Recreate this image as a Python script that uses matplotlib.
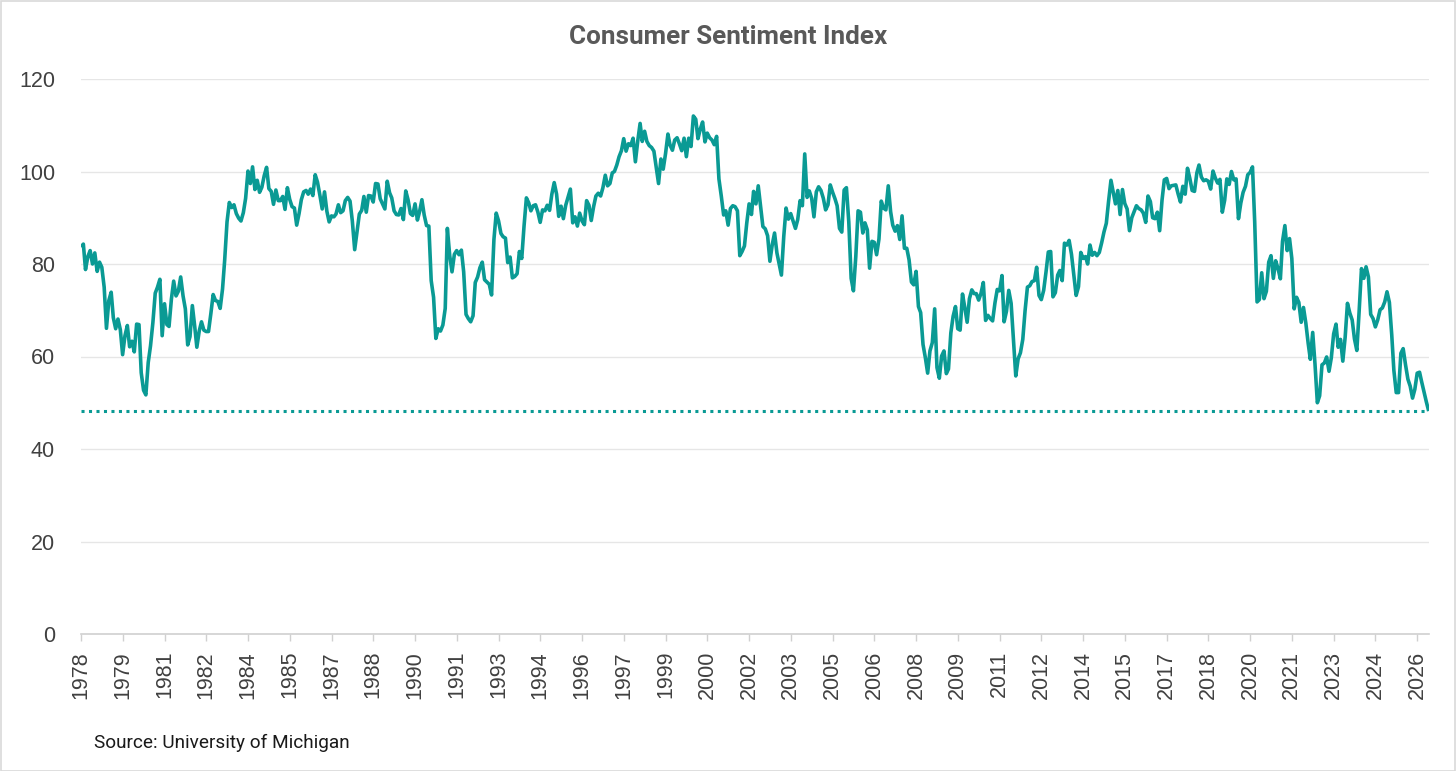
import matplotlib
matplotlib.use('Agg')
import matplotlib.pyplot as plt
import numpy as np
import pandas as pd
from matplotlib.patches import Rectangle

# ---- Monthly University of Michigan Consumer Sentiment values ----
v1978 = [83.7, 84.3, 78.8, 81.6, 82.9, 80.0, 82.4, 78.4, 80.4, 79.3, 75.0, 66.1]
v1979 = [72.1, 73.9, 68.4, 66.0, 68.1, 65.8, 60.4, 64.5, 66.7, 62.1, 63.3, 61.0]
v1980 = [67.0, 66.9, 56.5, 52.7, 51.7, 58.7, 62.3, 67.3, 73.7, 75.0, 76.7, 64.5]
v1981 = [71.4, 66.9, 66.5, 72.4, 76.3, 73.1, 74.1, 77.2, 73.1, 70.3, 62.5, 64.3]
v1982 = [71.0, 66.5, 62.0, 65.5, 67.5, 65.7, 65.4, 65.4, 69.3, 73.4, 72.1, 71.9]
v1983 = [70.4, 74.6, 80.8, 89.1, 93.3, 92.2, 92.8, 90.9, 89.9, 89.3, 91.1, 94.2]
v1984 = [100.1, 97.4, 101.0, 96.1, 98.1, 95.5, 96.6, 99.1, 100.9, 96.3, 95.7, 92.9]
v1985 = [96.0, 93.7, 93.7, 94.6, 91.8, 96.5, 94.0, 92.4, 92.1, 88.4, 90.9, 93.9]
v1986 = [95.6, 95.9, 95.1, 96.2, 94.8, 99.3, 97.7, 94.9, 91.9, 95.6, 91.4, 89.1]
v1987 = [90.4, 90.2, 90.8, 92.8, 91.1, 91.5, 93.7, 94.4, 93.6, 89.3, 83.1, 86.8]
v1988 = [90.8, 91.6, 94.6, 91.2, 94.8, 94.7, 93.4, 97.4, 97.3, 94.1, 93.0, 91.9]
v1989 = [97.9, 95.4, 94.3, 91.5, 90.7, 90.6, 92.0, 89.6, 95.8, 93.9, 90.9, 90.5]
v1990 = [93.0, 89.5, 91.3, 93.9, 90.6, 88.3, 88.2, 76.4, 72.8, 63.9, 66.0, 65.5]
v1991 = [66.8, 70.4, 87.7, 81.8, 78.3, 82.1, 82.9, 82.0, 83.0, 78.3, 69.1, 68.2]
v1992 = [67.5, 68.8, 76.0, 77.2, 79.2, 80.4, 76.6, 76.1, 75.6, 73.3, 85.3, 91.0]
v1993 = [89.3, 86.6, 85.9, 85.6, 80.3, 81.5, 77.0, 77.3, 77.9, 82.7, 81.2, 88.2]
v1994 = [94.3, 93.2, 91.5, 92.6, 92.8, 91.2, 89.0, 91.7, 91.5, 92.7, 91.6, 95.1]
v1995 = [97.6, 95.1, 90.3, 92.5, 89.8, 92.7, 94.4, 96.2, 88.9, 90.2, 88.2, 91.0]
v1996 = [89.3, 88.5, 93.7, 92.7, 89.4, 92.4, 94.7, 95.3, 94.7, 96.5, 99.2, 96.9]
v1997 = [97.4, 99.7, 100.0, 101.4, 103.2, 104.5, 107.1, 104.4, 106.0, 105.6, 107.2, 102.1]
v1998 = [106.6, 110.4, 106.5, 108.7, 106.5, 105.6, 105.2, 104.4, 100.9, 97.4, 102.7, 100.5]
v1999 = [103.9, 108.1, 105.7, 104.6, 106.8, 107.3, 106.0, 104.5, 107.2, 103.2, 107.2, 105.4]
v2000 = [112.0, 111.3, 107.1, 109.2, 110.7, 106.4, 108.3, 107.3, 106.8, 105.8, 107.6, 98.4]
v2001 = [94.7, 90.6, 91.5, 88.4, 92.0, 92.6, 92.4, 91.5, 81.8, 82.7, 83.9, 88.8]
v2002 = [93.0, 90.7, 95.7, 93.0, 96.9, 92.4, 88.1, 87.6, 86.1, 80.6, 84.2, 86.7]
v2003 = [82.4, 79.9, 77.6, 86.0, 92.1, 89.7, 90.9, 89.3, 87.7, 89.6, 93.7, 92.6]
v2004 = [103.8, 94.4, 95.8, 94.2, 90.2, 95.6, 96.7, 95.9, 94.2, 91.7, 92.8, 97.1]
v2005 = [95.5, 94.1, 92.6, 87.7, 86.9, 96.0, 96.5, 89.1, 76.9, 74.2, 81.6, 91.5]
v2006 = [91.2, 86.7, 88.9, 87.4, 79.1, 84.9, 84.7, 82.0, 85.4, 93.6, 92.1, 91.7]
v2007 = [96.9, 91.3, 88.4, 87.1, 88.3, 85.3, 90.4, 83.4, 83.4, 80.9, 76.1, 75.5]
v2008 = [78.4, 70.8, 69.5, 62.6, 59.8, 56.4, 61.2, 63.0, 70.3, 57.6, 55.3, 60.1]
v2009 = [61.2, 56.3, 57.3, 65.1, 68.7, 70.8, 66.0, 65.7, 73.5, 70.6, 67.4, 72.5]
v2010 = [74.4, 73.6, 73.6, 72.2, 73.6, 76.0, 67.8, 68.9, 68.2, 67.7, 71.6, 74.5]
v2011 = [74.2, 77.5, 67.5, 69.8, 74.3, 71.5, 63.7, 55.8, 59.5, 60.8, 63.7, 69.9]
v2012 = [75.0, 75.3, 76.2, 76.4, 79.3, 73.2, 72.3, 74.3, 78.3, 82.6, 82.7, 72.9]
v2013 = [73.8, 77.6, 78.6, 76.4, 84.5, 84.1, 85.1, 82.1, 77.5, 73.2, 75.1, 82.5]
v2014 = [81.2, 81.6, 80.0, 84.1, 81.9, 82.5, 81.8, 82.5, 84.6, 86.9, 88.8, 93.6]
v2015 = [98.1, 95.4, 93.0, 95.9, 90.7, 96.1, 93.1, 91.9, 87.2, 90.0, 91.3, 92.6]
v2016 = [92.0, 91.7, 91.0, 89.0, 94.7, 93.5, 90.0, 89.8, 91.2, 87.2, 93.8, 98.2]
v2017 = [98.5, 96.3, 96.9, 97.0, 97.1, 95.1, 93.4, 96.8, 95.1, 100.7, 98.5, 95.9]
v2018 = [95.7, 99.7, 101.4, 98.8, 98.0, 98.2, 97.9, 96.2, 100.1, 98.6, 97.5, 98.3]
v2019 = [91.2, 93.8, 98.4, 97.2, 100.0, 98.2, 98.4, 89.8, 93.2, 95.5, 96.8, 99.3]
v2020 = [99.8, 101.0, 89.1, 71.8, 72.3, 78.1, 72.5, 74.1, 80.4, 81.8, 76.9, 80.7]
v2021 = [79.0, 76.8, 84.9, 88.3, 82.9, 85.5, 81.2, 70.3, 72.8, 71.7, 67.4, 70.6]
v2022 = [67.2, 62.8, 59.4, 65.2, 58.4, 50.0, 51.5, 58.2, 58.6, 59.9, 56.8, 59.7]
v2023 = [64.9, 67.0, 62.0, 63.7, 59.0, 64.2, 71.5, 69.4, 67.9, 63.8, 61.3, 69.7]
v2024 = [79.0, 76.9, 79.4, 77.2, 69.1, 68.2, 66.4, 67.9, 70.1, 70.5, 71.8, 74.0]
v2025 = [71.7, 64.7, 57.0, 52.2, 52.2, 60.7, 61.7, 58.2, 55.1, 53.6, 51.0, 52.9]
v2026 = [56.4, 56.6, 54.5, 52.3, 50.2, 48.2]

yearly = [v1978, v1979, v1980, v1981, v1982, v1983, v1984, v1985, v1986, v1987,
          v1988, v1989, v1990, v1991, v1992, v1993, v1994, v1995, v1996, v1997,
          v1998, v1999, v2000, v2001, v2002, v2003, v2004, v2005, v2006, v2007,
          v2008, v2009, v2010, v2011, v2012, v2013, v2014, v2015, v2016, v2017,
          v2018, v2019, v2020, v2021, v2022, v2023, v2024, v2025, v2026]
values = np.concatenate([np.array(v, dtype=float) for v in yearly])
dates = pd.date_range('1978-01-01', periods=len(values), freq='MS')

record_low = 48.2
y_ticks = [0, 20, 40, 60, 80, 100, 120]
tick_dates = pd.date_range('1978-01-01', '2026-01-01', freq='18MS')
tick_labels = [d.strftime('%Y') for d in tick_dates]

title = 'Consumer Sentiment Index'
source = 'Source: University of Michigan'

# ---- styling ----
W, H = 1456, 771
teal = '#0A9A94'
label_color = '#404040'

fig = plt.figure(figsize=(W / 100, H / 100), dpi=100)
fig.patch.set_facecolor('white')

ax = fig.add_axes([81 / W, 1 - 634 / H, (1428.7 - 81) / W, (634 - 79) / H])

ax.plot(dates, values, color=teal, lw=2.6, solid_joinstyle='round',
        solid_capstyle='butt', zorder=3)
ax.plot([dates[0], dates[-1]], [record_low, record_low], color=teal, lw=2.2,
        linestyle=(0, (1, 1.45)), dash_capstyle='butt', zorder=2)

ax.set_ylim(0, 120)
ax.set_yticks(y_ticks)
ax.set_xlim(dates[0], dates[-1])
ax.set_xticks(tick_dates)
ax.set_xticklabels(tick_labels, rotation=90, family='Liberation Sans')
for lbl in ax.get_yticklabels():
    lbl.set_family('Liberation Sans')

ax.grid(axis='y', color='#e6e6e6', lw=1, zorder=0)
ax.set_axisbelow(True)
for s in ['top', 'right', 'left']:
    ax.spines[s].set_visible(False)
ax.spines['bottom'].set_color('#d0d0d0')
ax.spines['bottom'].set_linewidth(1.2)

ax.tick_params(axis='x', length=5, width=1, color='#d0d0d0', pad=7.2,
               labelsize=15.5, labelcolor=label_color)
ax.tick_params(axis='y', length=0, pad=18.7, labelsize=15.5,
               labelcolor=label_color)

fig.text(0.5, 1 - 37 / H, title, ha='center', va='center', fontsize=18.7,
         fontweight='bold', color='#595959', family='Roboto')
fig.text(94 / W, 1 - 743 / H, source, ha='left', va='center', fontsize=13.7,
         color='#1a1a1a', family='Roboto')

fig.patches.append(Rectangle((0.5 / W, 0.5 / H), 1 - 1.5 / W, 1 - 1.5 / H,
                             transform=fig.transFigure, fill=False,
                             ec='#d9d9d9', lw=1.2))

fig.savefig('out.png', dpi=100)
